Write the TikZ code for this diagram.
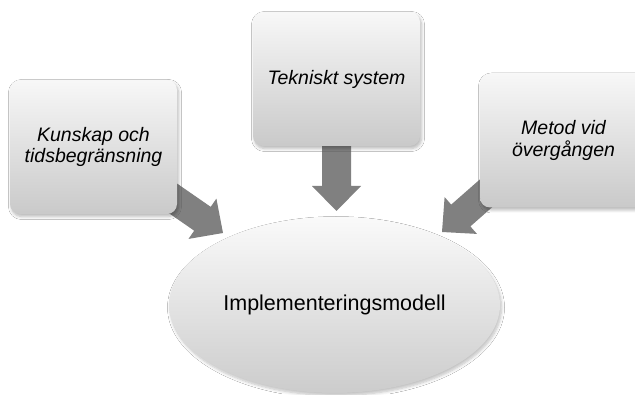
\documentclass[tikz,border=0pt]{standalone}
\usepackage{fontspec}
\setmainfont{Liberation Sans}
\usetikzlibrary{shapes.geometric,shadows.blur}
\tikzset{
  box/.style={rounded corners=10pt, minimum width=167pt, minimum height=134pt,
    top color=black!3, bottom color=black!21, draw=none,
    blur shadow={shadow xshift=1.5pt, shadow yshift=-2.5pt, shadow blur steps=6,
      shadow blur radius=3pt, shadow opacity=28},
    align=center, inner sep=0pt,
    font=\fontsize{19.5}{21.5}\selectfont\itshape},
  oval/.style={ellipse, minimum width=331pt, minimum height=176pt, inner sep=0pt,
    top color=black!2, bottom color=black!20, draw=none,
    blur shadow={shadow xshift=1.5pt, shadow yshift=-2.5pt, shadow blur steps=6,
      shadow blur radius=3pt, shadow opacity=25},
    font=\fontsize{21.5}{24}\selectfont},
  arrowfill/.style={fill=black!50, draw=none}
}
\newcommand\myblockarrow[3]{%
  \fill[arrowfill, shift={(#1)}, rotate=#2]
    (-#3,-14.5) -- (-25,-14.5) -- (-25,-24.5) -- (0,0) -- (-25,24.5)
    -- (-25,14.5) -- (-#3,14.5) -- cycle;}
\begin{document}
\begin{tikzpicture}[x=1pt,y=1pt]
  \useasboundingbox (0,0) rectangle (635,394);
  \clip (0,0) rectangle (635,394);
  \fill[white] (0,0) rectangle (635,394);
  % arrow tips
  \coordinate (tipL) at (223,161);
  \coordinate (tipT) at (336.5,183);
  \coordinate (tipR) at (442,162);
  \myblockarrow{tipL}{-34.7}{85}
  \myblockarrow{tipT}{-90}{80}
  \myblockarrow{tipR}{-138.7}{85}
  % nodes
  \node[box] (kun) at (93.5,247) {Kunskap och\\tidsbegränsning};
  \node[box] (tek) at (336.5,315) {Tekniskt system};
  \node[box] (met) at (563.5,253.5) {Metod vid\\övergången};
  \node[oval] (imp) at (334.5,89) {Implementeringsmodell};
\end{tikzpicture}
\end{document}
